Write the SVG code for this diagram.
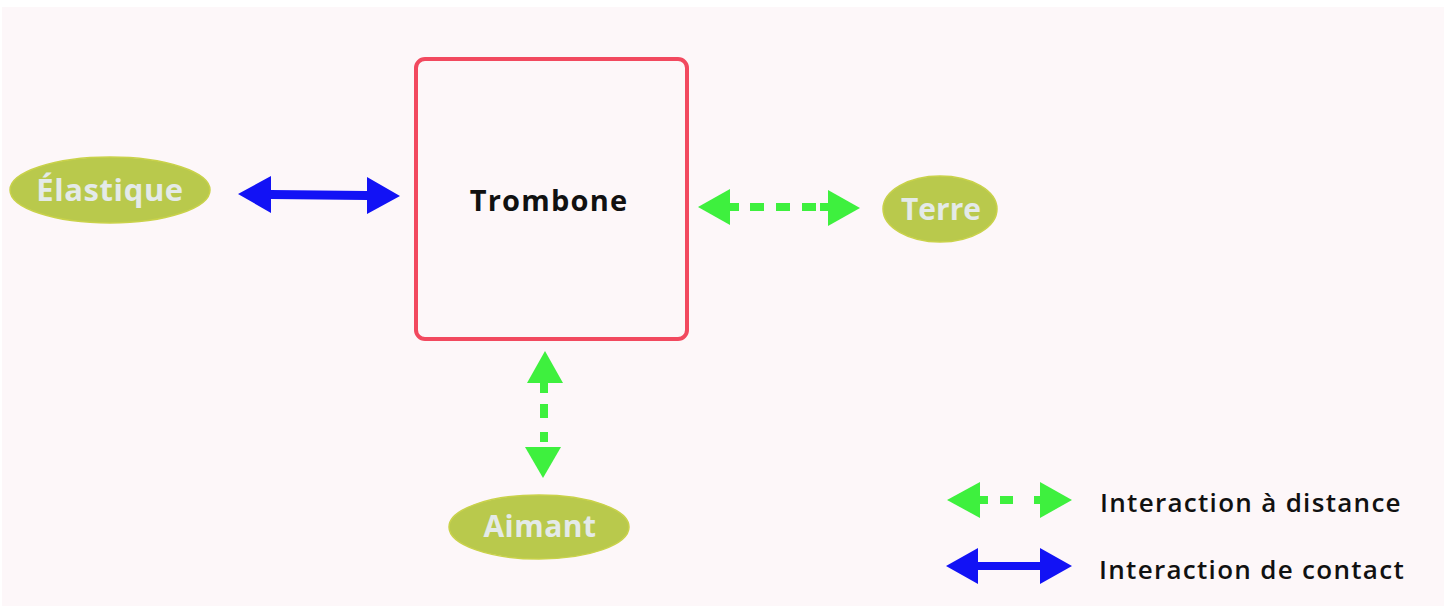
<svg xmlns="http://www.w3.org/2000/svg" width="1444" height="610" viewBox="0 0 1444 610">
<style>
.lbl{font-family:"Open Sans","Noto Sans","DejaVu Sans",sans-serif;font-weight:700;fill:#e4eae8;text-anchor:middle}
.ell{fill:#b9c94c;stroke:#c9d24a;stroke-width:1.5}
.blue{fill:#1212f5}
.green{fill:#3ef03e}
.leg{font-family:"Open Sans","Noto Sans",sans-serif;font-weight:600;font-size:26px;letter-spacing:1.3px;fill:#111}
</style>
<rect x="0" y="0" width="1444" height="610" fill="#ffffff"/>
<rect x="2" y="7" width="1442" height="599" fill="#fdf7f9"/>
<g id="trombone">
<rect x="416" y="59" width="271" height="280" rx="9" fill="#fdf7f9" stroke="#f2495f" stroke-width="4"/>
<text x="549" y="211" font-family="'Open Sans','Noto Sans',sans-serif" font-weight="700" font-size="29" letter-spacing="1.2" fill="#111" text-anchor="middle">Trombone</text>
</g>
<g id="elastique">
<ellipse class="ell" cx="110" cy="190" rx="100" ry="33"/>
<text class="lbl" x="110" y="201" font-size="31" letter-spacing="0.6">Élastique</text>
</g>
<g id="terre">
<ellipse class="ell" cx="940" cy="209" rx="57" ry="33"/>
<text class="lbl" x="941" y="220" font-size="30">Terre</text>
</g>
<g id="aimant">
<ellipse class="ell" cx="539" cy="527" rx="90" ry="32"/>
<text class="lbl" x="540" y="537" font-size="30" letter-spacing="0.5">Aimant</text>
</g>
<g id="connectors">
<polygon class="blue" points="238,194 271,176 271,190 367,191 367,177 400,196 367,214 367,200 271,199 271,213"/>
<polygon class="green" points="698,207 730,189 730,225"/>
<rect class="green" x="730" y="203" width="9" height="8"/>
<rect class="green" x="750" y="203" width="14" height="8"/>
<rect class="green" x="776" y="203" width="14" height="8"/>
<rect class="green" x="802" y="203" width="14" height="8"/>
<rect class="green" x="820" y="203" width="10" height="8"/>
<polygon class="green" points="860,208 828,190 828,226"/>
<polygon class="green" points="545,351 563,383 527,383"/>
<rect class="green" x="540" y="383" width="8" height="10"/>
<rect class="green" x="540" y="404" width="8" height="14"/>
<rect class="green" x="540" y="432" width="8" height="10"/>
<polygon class="green" points="543,478 561,447 525,447"/>
</g>
<g id="legend">
<polygon class="green" points="947,500 980,482 980,518"/>
<rect class="green" x="980" y="496" width="8" height="8"/>
<rect class="green" x="1000" y="496" width="13" height="8"/>
<rect class="green" x="1034" y="496" width="8" height="8"/>
<polygon class="green" points="1072,500 1040,482 1040,518"/>
<text class="leg" x="1100" y="512">Interaction à distance</text>
<polygon class="blue" points="946,566 978,548 978,562 1040,562 1040,548 1072,566 1040,584 1040,570 978,570 978,584"/>
<text class="leg" x="1099" y="579">Interaction de contact</text>
</g>
</svg>
